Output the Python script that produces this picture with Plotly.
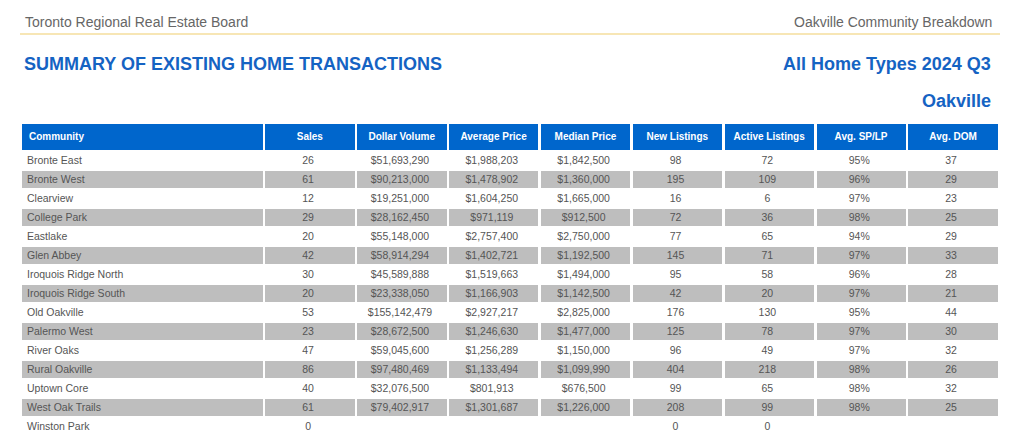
import plotly.graph_objects as go

communities = ["Bronte East", "Bronte West", "Clearview", "College Park", "Eastlake", "Glen Abbey",
               "Iroquois Ridge North", "Iroquois Ridge South", "Old Oakville", "Palermo West",
               "River Oaks", "Rural Oakville", "Uptown Core", "West Oak Trails", "Winston Park"]
sales = [26, 61, 12, 29, 20, 42, 30, 20, 53, 23, 47, 86, 40, 61, 0]
dollar_volume = [51693290, 90213000, 19251000, 28162450, 55148000, 58914294, 45589888, 23338050,
                 155142479, 28672500, 59045600, 97480469, 32076500, 79402917, None]
average_price = [1988203, 1478902, 1604250, 971119, 2757400, 1402721, 1519663, 1166903,
                 2927217, 1246630, 1256289, 1133494, 801913, 1301687, None]
median_price = [1842500, 1360000, 1665000, 912500, 2750000, 1192500, 1494000, 1142500,
                2825000, 1477000, 1150000, 1099990, 676500, 1226000, None]
new_listings = [98, 195, 16, 72, 77, 145, 95, 42, 176, 125, 96, 404, 99, 208, 0]
active_listings = [72, 109, 6, 36, 65, 71, 58, 20, 130, 78, 49, 218, 65, 99, 0]
avg_sp_lp = [95, 96, 97, 98, 94, 97, 96, 97, 95, 97, 97, 98, 98, 98, None]
avg_dom = [37, 29, 23, 25, 29, 33, 28, 21, 44, 30, 32, 26, 32, 25, None]

headers = ["Community", "Sales", "Dollar Volume", "Average Price", "Median Price",
           "New Listings", "Active Listings", "Avg. SP/LP", "Avg. DOM"]


def money(v):
    return "" if v is None else "${:,.0f}".format(v)


def num(v):
    return "" if v is None else str(v)


def pct(v):
    return "" if v is None else "{}%".format(v)


columns = [
    communities,
    [num(v) for v in sales],
    [money(v) for v in dollar_volume],
    [money(v) for v in average_price],
    [money(v) for v in median_price],
    [num(v) for v in new_listings],
    [num(v) for v in active_listings],
    [pct(v) for v in avg_sp_lp],
    [num(v) for v in avg_dom],
]

W, H = 1024, 443
n = len(communities)
row_fill = ["#FFFFFF" if i % 2 == 0 else "#BEBEBE" for i in range(n)]
BLUE = "#1563C3"
FONT = "Liberation Sans, Arial, sans-serif"
CLEAR = "rgba(0,0,0,0)"
colw = [243] + [91.8] * 8
aligns = ["left"] + ["center"] * 8
TOP = 123       # table top (px from top)
TEXT_SHIFT = 3  # body text is lifted to sit centred in its row
TEXT_DX = 2     # and nudged left to match the reference padding

# background table: header (with its text) and row fills
bg = go.Table(
    domain=dict(x=[21 / W, 999 / W], y=[0, 1 - TOP / H]),
    columnwidth=colw,
    header=dict(
        values=["<b>%s</b>" % h for h in headers],
        fill_color="#0066CC",
        line=dict(color="white", width=2.5),
        align=aligns,
        font=dict(family=FONT, size=10, color="white"),
        height=28,
    ),
    cells=dict(
        values=[[""] * n for _ in headers],
        fill_color=[row_fill] * 9,
        line=dict(color="white", width=2.5),
        align=aligns,
        font=dict(family=FONT, size=10.5, color="#555555"),
        height=19,
    ),
)

# text table: same grid, transparent, carrying the cell values
txt = go.Table(
    domain=dict(x=[(21 - TEXT_DX) / W, (999 - TEXT_DX) / W], y=[0, 1 - (TOP - TEXT_SHIFT) / H]),
    columnwidth=colw,
    header=dict(
        values=[""] * len(headers),
        fill_color=CLEAR,
        line=dict(color=CLEAR, width=0),
        height=28,
    ),
    cells=dict(
        values=columns,
        fill_color=CLEAR,
        line=dict(color=CLEAR, width=0),
        align=aligns,
        font=dict(family=FONT, size=10.5, color="#555555"),
        height=19,
    ),
)

fig = go.Figure([bg, txt])

ann = [
    dict(text="Toronto Regional Real Estate Board", x=23 / W, y=1 - 22 / H, xanchor="left",
         font=dict(size=14, color="#666666")),
    dict(text="Oakville Community Breakdown", x=994 / W, y=1 - 22 / H, xanchor="right",
         font=dict(size=14, color="#666666")),
    dict(text="<b>SUMMARY OF EXISTING HOME TRANSACTIONS</b>", x=22 / W, y=1 - 64 / H, xanchor="left",
         font=dict(size=18, color=BLUE)),
    dict(text="<b>All Home Types 2024 Q3</b>", x=993 / W, y=1 - 64 / H, xanchor="right",
         font=dict(size=18, color=BLUE)),
    dict(text="<b>Oakville</b>", x=993 / W, y=1 - 101 / H, xanchor="right",
         font=dict(size=18, color=BLUE)),
]
for a in ann:
    a.update(xref="paper", yref="paper", yanchor="middle", showarrow=False)
    a["font"]["family"] = FONT

fig.update_layout(
    width=W, height=H,
    margin=dict(l=0, r=0, t=0, b=0),
    paper_bgcolor="white",
    annotations=ann,
    shapes=[dict(type="line", xref="paper", yref="paper", x0=20 / W, x1=1000 / W,
                 y0=1 - 34 / H, y1=1 - 34 / H, line=dict(color="#F7E6B5", width=2))],
)

fig.write_html("out.html", config={"displayModeBar": False},
               post_script="document.body.style.margin='0';document.body.style.overflow='hidden';")
